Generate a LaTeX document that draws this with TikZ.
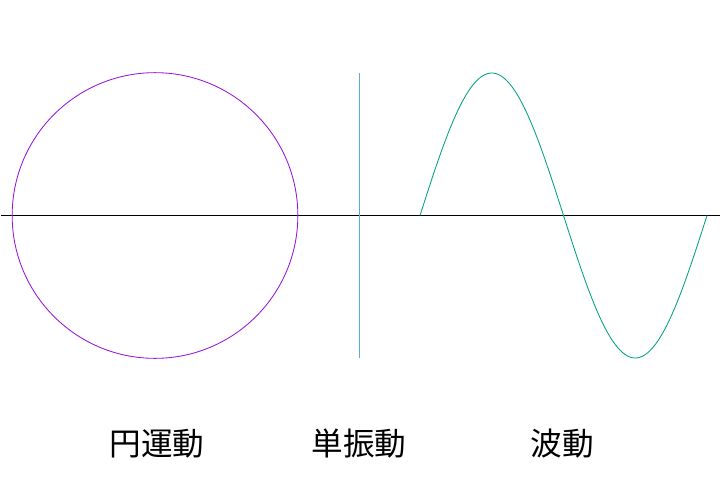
\documentclass[tikz,border=0pt]{standalone}
\usepackage{fontspec}
\usepackage{tikz}
\usepackage{xcolor}
\newfontfamily\cjk{Noto Sans CJK JP}
\definecolor{circpurple}{RGB}{150,20,220}
\definecolor{wavegreen}{RGB}{0,160,130}
\definecolor{osciblue}{RGB}{90,170,220}

\begin{document}
\begin{tikzpicture}[x=0.025cm, y=-0.025cm]
  \useasboundingbox (0,0) rectangle (720,480);
  \draw[black, line width=0.6pt] (1,215) -- (720,215);
  \draw[circpurple, line width=0.6pt] (155,215.5) circle[radius=3.57cm];
  \draw[osciblue, line width=0.6pt] (359,73) -- (359,358);
  \draw[wavegreen, line width=0.6pt, domain=0:287, samples=120, smooth]
    plot ({\x+420}, {215.5-142.5*sin(1.25436*\x)});
  \node[font=\cjk\fontsize{22.5pt}{26pt}\selectfont] (circ) at (157,444) {円運動};
  \node[font=\cjk\fontsize{22.5pt}{26pt}\selectfont] (osc) at (359,444) {単振動};
  \node[font=\cjk\fontsize{22.5pt}{26pt}\selectfont] (wave) at (562,444) {波動};
\end{tikzpicture}
\end{document}
